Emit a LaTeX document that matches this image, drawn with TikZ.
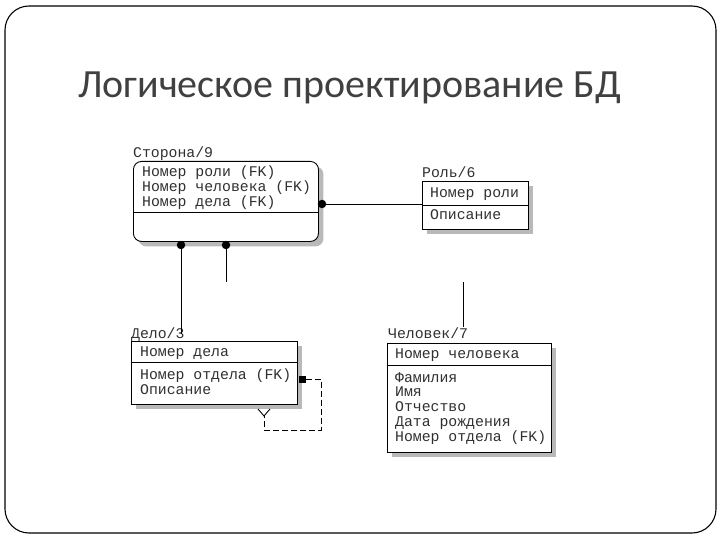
\documentclass[tikz,border=0pt]{standalone}
\usepackage{fontspec}
\setmainfont{Carlito}
\newfontfamily\erfont{Liberation Mono}
\usetikzlibrary{shadows}
\definecolor{titlec}{HTML}{404040}
\definecolor{txtc}{HTML}{303030}
\tikzset{
  ebox/.style={draw=black, line width=0.9pt, fill=white, anchor=north west, inner sep=0pt,
    drop shadow={shadow xshift=5pt, shadow yshift=-5pt, fill=gray!55, opacity=1}},
  etxt/.style={anchor=base west, inner sep=0pt, font=\erfont\fontsize{14.8}{15}\selectfont, text=txtc},
  dot/.style={circle, fill=black, inner sep=0pt, minimum size=8.5pt},
  rel/.style={draw=black, line width=0.9pt},
  drel/.style={draw=black, line width=0.9pt, dash pattern=on 6pt off 3pt},
}
\begin{document}
\begin{tikzpicture}[x=1pt,y=-1pt]
\useasboundingbox (0,0) rectangle (720,540);
% frame
\draw[line width=1.1pt, rounded corners=24pt] (5,6) rectangle (716,533);
% title
\node[anchor=base west, inner sep=0pt, text=titlec, font=\fontsize{40}{44}\selectfont] (title) at (78,98) {Логическое проектирование БД};

% Сторона/9
\node[etxt] (lS) at (133,158) {Сторона/9};
\node[ebox, rounded corners=8pt, minimum width=185pt, minimum height=80pt] (S) at (133,161) {};
\node[etxt] (s1) at (142,177) {Номер роли (FK)};
\node[etxt] (s2) at (142,192) {Номер человека (FK)};
\node[etxt] (s3) at (142,207) {Номер дела (FK)};
\draw[rel] (S.west |- 0,212) -- (S.east |- 0,212);

% Роль/6
\node[etxt] (lR) at (422,178) {Роль/6};
\node[ebox, minimum width=106pt, minimum height=48pt] (R) at (422,181) {};
\node[etxt] (r1) at (430,197) {Номер роли};
\node[etxt] (r2) at (430,220) {Описание};
\draw[rel] (R.west |- 0,205) -- (R.east |- 0,205);

% Дело/3
\node[etxt] (lD) at (131,338) {Дело/3};
\node[ebox, minimum width=166pt, minimum height=63pt] (D) at (131,341) {};
\node[etxt] (d1) at (140,356) {Номер дела};
\node[etxt] (d2) at (140,379) {Номер отдела (FK)};
\node[etxt] (d3) at (140,394) {Описание};
\draw[rel] (D.west |- 0,362) -- (D.east |- 0,362);

% Человек/7
\node[etxt] (lC) at (388,338) {Человек/7};
\node[ebox, minimum width=164pt, minimum height=109pt] (C) at (387,343) {};
\node[etxt] (c1) at (395,358) {Номер человека};
\node[etxt] (c2) at (395,382) {Фамилия};
\node[etxt] (c3) at (395,396) {Имя};
\node[etxt] (c4) at (395,411) {Отчество};
\node[etxt] (c5) at (395,426) {Дата рождения};
\node[etxt] (c6) at (395,441) {Номер отдела (FK)};
\draw[rel] (C.west |- 0,365) -- (C.east |- 0,365);

% relationships
\node[dot] (dR) at (322,204) {};
\draw[rel] (dR) -- (R.west |- dR);

\node[dot] (dD) at (181,245) {};
\coordinate (eD) at (181,334);
\draw[rel] (dD) -- (eD);

\node[dot] (dC) at (226,245) {};
\coordinate (eC) at (226,282);
\draw[rel] (dC) -- (eC);

\coordinate (cA) at (463,282);
\coordinate (cB) at (463,327);
\draw[rel] (cA) -- (cB);

% recursive on Дело
\node[rectangle, fill=black, inner sep=0pt, minimum size=7pt] (dS) at (302,379) {};
\coordinate (k1) at (321,379);
\coordinate (k2) at (321,430);
\coordinate (k3) at (264,430);
\coordinate (k4) at (264,416);
\draw[drel] (dS) -- (k1) -- (k2) -- (k3) -- (k4);
\draw[rel] (258,409) -- (k4) -- (270,409);
\end{tikzpicture}
\end{document}
